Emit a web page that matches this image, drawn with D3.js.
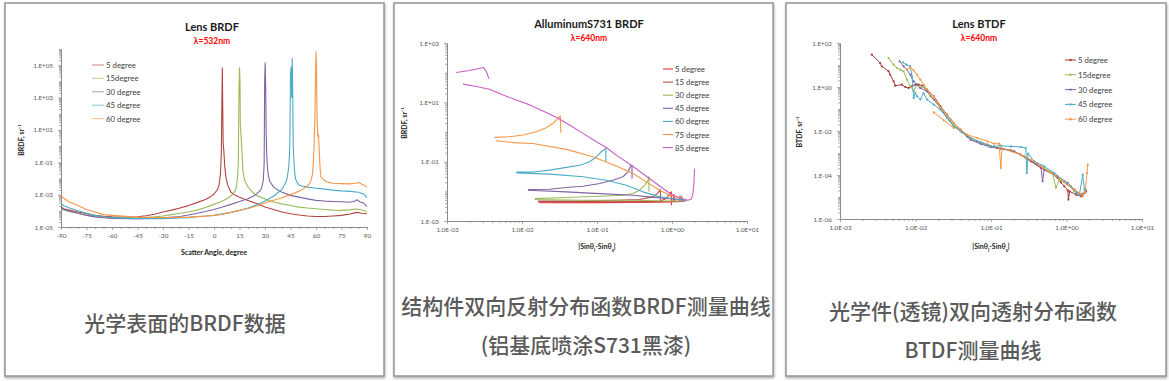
<!DOCTYPE html>
<html><head><meta charset="utf-8">
<script src="https://cdn.jsdelivr.net/npm/d3@7"></script>
<style>body{margin:0;background:#fff;}svg{display:block}</style>
</head><body>
<script>
// ---------------- DATA ----------------
// Panel 1: Lens BRDF, x = scatter angle (deg), y = BRDF (sr^-1)
const p1Names = ["5 degree","15degree","30 degree","45 degree","60 degree"];
const p1Colors = ["#b0443f","#9bbb59","#8064a2","#4bacc6","#f79646"];
const p1XTicks = [-90,-75,-60,-45,-30,-15,0,15,30,45,60,75,90];
const p1YTicks = [1e-5,1e-3,1e-1,1e1,1e3,1e5];
const p1YLabels = ["1.E-05","1.E-03","1.E-01","1.E+01","1.E+03","1.E+05"];
const p1S5 = [[-90,1.7e-4],[-88,1.3e-4],[-85,1.1e-4],[-80,8.5e-5],[-75,6.6e-5],[-70,5.2e-5],[-65,4.6e-5],[-60,4.2e-5],[-50,4.1e-5],[-45,4.3e-5],[-40,5e-5],[-35,6.2e-5],[-30,8.4e-5],[-25,1.1e-4],[-20,1.5e-4],[-15,2.1e-4],[-10,3.2e-4],[-5,5e-4],[-2,7.5e-4],[0,1.1e-3],[2,2e-3],[3,4e-3],[3.8,2e-2],[4.3,0.3],[4.6,2e2],[4.9,7e4],[5.1,5e2],[5.4,1.5],[5.8,0.5],[6.3,6e-2],[7,1.2e-2],[8,4e-3],[10,1.4e-3],[12,1e-3],[15,7e-4],[20,4.4e-4],[25,2.8e-4],[30,1.7e-4],[35,1.2e-4],[40,8.5e-5],[45,6.6e-5],[50,5.5e-5],[55,4.8e-5],[60,4.5e-5],[65,4.5e-5],[70,4.8e-5],[75,5.2e-5],[80,6.3e-5],[84,8e-5],[87,7e-5],[90,6.6e-5]];
const p1S15 = [[-90,1.3e-4],[-88,1.1e-4],[-85,9e-5],[-80,7e-5],[-75,5.5e-5],[-70,4.6e-5],[-65,4e-5],[-60,3.7e-5],[-50,3.6e-5],[-45,3.6e-5],[-40,3.8e-5],[-35,4.2e-5],[-30,4.8e-5],[-25,5.8e-5],[-20,7e-5],[-15,8.5e-5],[-10,1.1e-4],[-5,1.6e-4],[0,2.5e-4],[5,4e-4],[8,6e-4],[10,8.5e-4],[12,1.4e-3],[13,2.5e-3],[13.8,1e-2],[14.3,0.1],[14.7,3e3],[15,7e4],[15.3,1e4],[15.5,20],[16,3],[16.5,0.3],[17,3e-2],[18,8e-3],[20,3e-3],[23,1.3e-3],[25,9e-4],[31,4.8e-4],[35,3.5e-4],[40,2.7e-4],[45,2.15e-4],[50,1.7e-4],[55,1.5e-4],[60,1.34e-4],[65,1.2e-4],[70,1.1e-4],[75,1.06e-4],[80,1.15e-4],[83,1.3e-4],[86,1.2e-4],[90,8.8e-5]];
const p1S30 = [[-90,1.4e-4],[-88,1.2e-4],[-85,9.5e-5],[-80,7e-5],[-75,5.2e-5],[-70,4.2e-5],[-65,3.7e-5],[-60,3.4e-5],[-50,3.3e-5],[-45,3.3e-5],[-40,3.4e-5],[-35,3.5e-5],[-30,3.7e-5],[-20,4.5e-5],[-15,5.5e-5],[-10,7e-5],[-5,9e-5],[0,1.2e-4],[5,1.7e-4],[10,2.5e-4],[15,3.8e-4],[20,5.5e-4],[23,8e-4],[25,1.1e-3],[27,1.7e-3],[28,2.5e-3],[29,8e-3],[29.5,8e-2],[29.8,1e4],[30.1,1.4e5],[30.4,5e3],[30.7,5],[31,0.3],[31.5,4e-2],[32,1.5e-2],[33,6e-3],[35,3e-3],[38,1.8e-3],[40,1.4e-3],[45,9e-4],[50,7e-4],[55,5.5e-4],[60,4.4e-4],[65,4e-4],[70,3.8e-4],[75,3.6e-4],[80,3.4e-4],[83,4e-4],[84,4.8e-4],[86,3.5e-4],[88,3e-4],[90,1.8e-4]];
const p1S45 = [[-90,2.7e-4],[-88,2e-4],[-85,1.5e-4],[-80,1e-4],[-75,7e-5],[-70,5.2e-5],[-65,4.3e-5],[-60,3.8e-5],[-50,3.4e-5],[-45,3.3e-5],[-40,3.3e-5],[-30,3.3e-5],[-20,3.6e-5],[-15,3.8e-5],[-10,4.3e-5],[-5,4.8e-5],[0,5.2e-5],[5,6.5e-5],[10,8e-5],[15,1.06e-4],[20,1.5e-4],[25,2.3e-4],[30,4e-4],[35,8e-4],[38,1.4e-3],[40,2.2e-3],[42,5e-3],[43,1e-2],[44,5e-2],[44.6,1],[45,3e4],[45.4,8e4],[45.7,1e3],[46,2.6e5],[46.3,3e3],[46.6,1],[47,0.15],[47.5,2e-2],[48,9e-3],[49,5.5e-3],[50,4e-3],[52,3.3e-3],[55,2.9e-3],[60,2.5e-3],[65,2.2e-3],[70,1.9e-3],[75,1.7e-3],[80,1.6e-3],[85,1.4e-3],[88,1.1e-3],[90,6.5e-4]];
const p1S60 = [[-90,9e-4],[-88,5.5e-4],[-85,3.5e-4],[-80,2.1e-4],[-75,1.2e-4],[-70,8.4e-5],[-65,5.8e-5],[-60,5.2e-5],[-50,4.5e-5],[-45,4.1e-5],[-30,3.7e-5],[-15,4.1e-5],[-5,4.7e-5],[0,5.2e-5],[5,6.2e-5],[10,8e-5],[15,1.06e-4],[20,1.4e-4],[25,2e-4],[30,3e-4],[35,4.5e-4],[40,6.5e-4],[45,1e-3],[50,1.6e-3],[54,2.9e-3],[56,4.5e-3],[57,7e-3],[58,2e-2],[58.7,0.3],[59.3,30],[59.7,1e4],[60,7e5],[60.3,1e5],[60.6,50],[61,4],[61.5,5],[62,0.3],[62.5,3e-2],[63,1.2e-2],[65,7.4e-3],[68,5.5e-3],[70,5.1e-3],[75,4.8e-3],[80,4.6e-3],[83,5e-3],[85,5.6e-3],[87,4.4e-3],[88,4e-3],[90,2.9e-3]];

// Panel 2: AlluminumS731 BRDF, x = |sin θi - sin θs|, y = BRDF
const p2Names = ["5 degree","15 degree","30 degree","45 degree","60 degree","75 degree","85 degree"];
const p2Colors = ["#ff2a2a","#b5504c","#9bbb59","#8064a2","#4bacc6","#f79646","#c660c4"];
const p2XTicks = [1e-3,1e-2,1e-1,1,10];
const p2XLabels = ["1.0E-03","1.0E-02","1.0E-01","1.0E+00","1.0E+01"];
const p2YTicks = [1e-3,1e-1,1e1,1e3];
const p2YLabels = ["1.E-03","1.E-01","1.E+01","1.E+03"];
const p2S5 = [[1.72e-2,4.4e-3],[0.109,4.3e-3],[0.37,4.4e-3],[0.685,4.6e-3],[0.84,5.7e-3],[0.931,8.4e-3],[0.98,9.6e-3],[0.98,3.4e-3],null,[1.72e-2,4.1e-3],[0.109,4.1e-3],[0.5,4.3e-3],[1.03,4.5e-3],[1.06,8e-3],[1.09,4.5e-3],[1.26,4.6e-3],[1.28,7e-3],[1.31,4.6e-3],[1.4,4.7e-3]];
const p2S15 = [[1.63e-2,4.7e-3],[6.5e-2,4.7e-3],[0.181,5.0e-3],[0.37,5.3e-3],[0.558,6.5e-3],[0.65,8.9e-3],[0.699,1.15e-2],[0.699,5.0e-3],null,[1.63e-2,4.4e-3],[0.109,4.4e-3],[0.5,4.4e-3],[1.03,4.5e-3],[1.55,4.7e-3]];
const p2S30 = [[1.48e-2,5.7e-3],[3.9e-2,6.2e-3],[0.109,6.8e-3],[0.222,7.4e-3],[0.302,8.4e-3],[0.37,1.09e-2],[0.432,1.61e-2],[0.479,2.37e-2],[0.493,3.1e-2],[0.493,9.6e-3],null,[1.48e-2,5.3e-3],[6.5e-2,5.0e-3],[0.302,5.0e-3],[0.84,4.7e-3],[1.3,4.7e-3],[1.35,7e-3],[1.4,4.7e-3]];
const p2S45 = [[1.2e-2,1.15e-2],[2.34e-2,1.18e-2],[3.9e-2,1.34e-2],[6.5e-2,1.49e-2],[0.109,1.83e-2],[0.163,2.37e-2],[0.222,3.1e-2],[0.259,4.5e-2],[0.281,7.1e-2],[0.293,7.6e-2],[0.293,2.7e-2],null,[1.2e-2,1.09e-2],[3.9e-2,9.6e-3],[0.109,8.4e-3],[0.302,7.4e-3],[0.5,6.5e-3],[0.84,5.7e-3],[1.26,5.3e-3],[1.55,5.0e-3]];
const p2S60 = [[8.4e-3,4.5e-2],[1.4e-2,4.5e-2],[2.34e-2,5.2e-2],[3.9e-2,6.4e-2],[5.9e-2,7.6e-2],[8.0e-2,9.9e-2],[9.8e-2,0.146],[0.114,0.216],[0.131,0.28],[0.131,9.9e-2],null,[8.4e-3,4.2e-2],[2.34e-2,3.8e-2],[6.5e-2,3.1e-2],[0.133,2.37e-2],[0.246,1.61e-2],[0.41,9.6e-3],[0.685,6.5e-3],[1.03,5.7e-3],[1.55,5.0e-3]];
const p2S75 = [[4.3e-3,0.66],[6.9e-3,0.69],[1.03e-2,0.79],[1.55e-2,1.02],[2.1e-2,1.4],[2.6e-2,1.96],[3.0e-2,2.82],[3.24e-2,3.47],[3.3e-2,0.95],null,[4.5e-3,0.51],[8.4e-3,0.43],[1.4e-2,0.41],[3.9e-2,0.26],[8.8e-2,0.146],[0.181,7.1e-2],[0.302,4.0e-2],[0.455,2.08e-2],[0.685,1.09e-2],[0.931,7.4e-3],[1.4,5.7e-3]];
const p2S85 = [[1.33e-3,101],[2.0e-3,118],[3.08e-3,150],[3.34e-3,109],[3.63e-3,62],null,[1.63e-3,41],[2.46e-3,34],[3.7e-3,27.7],[5.6e-3,17.8],[8.4e-3,12],[1.27e-2,8.2],[1.9e-2,5.1],[2.87e-2,3.13],[4.3e-2,1.72],[6.5e-2,0.9],[9.8e-2,0.47],[0.133,0.30],[0.181,0.166],[0.287,7.6e-2],[0.5,2.7e-2],[0.759,1.24e-2],[1.03,7.4e-3],[1.33,5.7e-3],[1.63,5.0e-3],[1.81,5.5e-3],[1.9,8.4e-3],[1.96,1.83e-2],[2.0,5.9e-2]];

// Panel 3: Lens BTDF
const p3Names = ["5 degree","15degree","30 degree","45 degree","60 degree"];
const p3Colors = ["#a8383b","#9bbb59","#8064a2","#4bacc6","#f79646"];
const p3XTicks = [1e-3,1e-2,1e-1,1,10];
const p3XLabels = ["1.0E-03","1.0E-02","1.0E-01","1.0E+00","1.0E+01"];
const p3YTicks = [1e-6,1e-4,1e-2,1,1e2];
const p3YLabels = ["1.E-06","1.E-04","1.E-02","1.E+00","1.E+02"];
const p3S5 = [[2.64e-3,29.5],[3.4e-3,12.3],[3.58e-3,8.7],[4.4e-3,5.2],[4.63e-3,3.6],[5.13e-3,1.81],[5.39e-3,1.15],[6.61e-3,1.28],[7.33e-3,1.0],[8.1e-3,0.9],[8.98e-3,1.07],[9.95e-3,1.28],[1.1e-2,1.28],[1.22e-2,1.15],[1.42e-2,0.70],[1.75e-2,0.38],[2.14e-2,0.132],[2.62e-2,0.055],[3.22e-2,0.0231],[3.95e-2,0.0115],[4.84e-2,0.0057],[6.58e-2,0.0034],[8.94e-2,0.0024],[0.121,0.00169],[0.183,0.00132],[0.248,8.4e-4],[0.337,4.2e-4],[0.458,2.08e-4],[0.622,1.23e-4],[0.763,7.3e-5],[0.845,4.6e-5],[0.936,3.05e-5],[1.04,2.0e-5],[1.06,7.6e-6],[1.1,1.8e-5],[1.34,1.28e-5],[1.56,1.07e-5],[1.76,1.52e-5]];
const p3S15 = [[4.4e-3,20.8],[5.13e-3,10.3],[5.67e-3,7.3],[6.28e-3,6.1],[6.96e-3,5.2],[7.7e-3,2.15],[8.53e-3,1.07],[9.46e-3,0.64],[1.05e-2,1.28],[1.16e-2,0.9],[1.28e-2,1.07],[1.42e-2,0.64],[1.57e-2,0.38],[1.93e-2,0.19],[2.37e-2,0.078],[2.9e-2,0.0275],[3.56e-2,0.0137],[4.37e-2,0.0081],[5.94e-2,0.0040],[8.07e-2,0.00265],[0.11,0.00181],[0.149,0.00152],[0.202,0.00119],[0.275,7.1e-4],[0.373,3.8e-4],[0.507,2.08e-4],[0.655,1.23e-4],[0.725,2.6e-5],[0.803,6.1e-5],[1.04,3.6e-5],[1.27,1.8e-5],[1.56,1.28e-5],[1.82,2.15e-5]];
const p3S30 = [[6.15e-3,14.7],[6.96e-3,8.7],[7.7e-3,6.1],[8.53e-3,3.6],[9.46e-3,1.81],[1.05e-2,1.28],[1.16e-2,0.9],[1.42e-2,0.64],[1.75e-2,0.27],[2.14e-2,0.111],[2.62e-2,0.039],[3.22e-2,0.0163],[4.16e-2,0.0087],[5.36e-2,0.0040],[7.29e-2,0.00256],[9.9e-2,0.00187],[0.135,0.00157],[0.202,0.00119],[0.304,5.3e-4],[0.413,2.95e-4],[0.458,2.5e-4],[0.482,5.2e-5],[0.507,1.75e-4],[0.763,8.7e-5],[1.04,4.3e-5],[1.27,2.15e-5],[1.56,1.28e-5],[1.82,1.8e-5]];
const p3S45 = [[6.82e-3,13.2],[7.55e-3,10.3],[8.53e-3,8.7],[8.98e-3,3.05],[9.46e-3,0.32],[9.95e-3,0.53],[1.05e-2,0.38],[1.16e-2,0.27],[1.28e-2,0.53],[1.42e-2,0.27],[1.75e-2,0.157],[2.14e-2,0.093],[2.62e-2,0.039],[3.22e-2,0.0163],[3.95e-2,0.0097],[5.36e-2,0.0048],[7.29e-2,0.0031],[9.4e-2,0.0020],[0.11,0.0020],[0.135,0.00215],[0.183,0.0020],[0.248,0.00187],[0.289,0.00169],[0.298,1.23e-4],[0.31,9.3e-4],[0.373,4.2e-4],[0.507,2.5e-4],[0.689,1.23e-4],[0.936,5.2e-5],[1.15,3.05e-5],[1.34,1.52e-5],[1.48,1.28e-5],[1.64,1.03e-4],[1.73,2.15e-5]];
const p3S60 = [[7.7e-3,6.1],[8.53e-3,7.3],[9.46e-3,5.7],[1.05e-2,3.6],[1.16e-2,2.15],[1.28e-2,1.28],[1.42e-2,0.81],[1.57e-2,0.53],[1.75e-2,0.38],[1.93e-2,0.19],[2.14e-2,0.111],[2.62e-2,0.055],[3.22e-2,0.0231],[3.95e-2,0.0115],[4.84e-2,0.0068],[6.58e-2,0.0048],[8.94e-2,0.0034],[0.11,0.00265],[0.128,0.00265],[0.135,2.08e-4],[0.14,0.00169],[0.183,0.00119],[0.248,8.4e-4],[0.337,5.0e-4],[0.458,2.5e-4],[0.622,1.23e-4],[0.845,6.1e-5],[1.04,3.6e-5],[1.27,2.15e-5],[1.48,1.52e-5],[1.64,1.07e-5],[1.76,1.52e-5],[1.87,1.23e-4],[1.91,2.95e-4],null,[1.75e-2,0.070],[2.37e-2,0.0305],[3.22e-2,0.0137]];

// Captions
const captions = [
  ["光学表面的BRDF数据"],
  ["结构件双向反射分布函数BRDF测量曲线","(铝基底喷涂S731黑漆)"],
  ["光学件(透镜)双向透射分布函数","BTDF测量曲线"]
];

// ---------------- DRAWING ----------------
const F = "Lato, 'Open Sans', sans-serif";
const AX = "#868686", TX = "#595959";
const svg = d3.select("body").append("svg").attr("width",1169).attr("height",381);
const defs = svg.append("defs");
defs.append("filter").attr("id","sh").attr("x","-3%").attr("y","-3%").attr("width","106%").attr("height","108%")
  .append("feDropShadow").attr("dx",0.5).attr("dy",1.5).attr("stdDeviation",0.8).attr("flood-color","#666").attr("flood-opacity",0.55);

const boxes = [{x:5,y:3,w:379,h:373,cx:185,cy:[322]},{x:394,y:3,w:379,h:373,cx:586,cy:[305,344]},{x:786,y:3,w:380,h:373,cx:973,cy:[310,349]}];
boxes.forEach((b,i)=>{
  svg.append("rect").attr("x",b.x).attr("y",b.y).attr("width",b.w).attr("height",b.h)
    .attr("fill","#fff").attr("stroke","#9c9c9c").attr("stroke-width",1.6).attr("filter","url(#sh)");
  captions[i].forEach((t,j)=>{
    svg.append("text").attr("x",b.cx).attr("y",b.cy[j]).attr("text-anchor","middle").attr("dominant-baseline","central")
      .style("font-family","'Noto Sans CJK SC', sans-serif").style("font-size","21px").style("font-weight",500)
      .attr("fill","#5a5a5a").text(t);
  });
});

function logMinor(domain, majors){
  const out=[]; const lo=Math.floor(Math.log10(domain[0])), hi=Math.ceil(Math.log10(domain[1]));
  for(let e=lo;e<=hi;e++) for(let k=1;k<=9;k++){ const v=k*Math.pow(10,e);
    if(v>=domain[0]*0.999 && v<=domain[1]*1.001 && !majors.some(m=>Math.abs(m-v)/m<1e-6)) out.push(v); }
  return out;
}
function styleAxis(g){
  g.select(".domain").attr("stroke",AX).attr("stroke-width",0.8);
  g.selectAll(".tick line").attr("stroke",AX).attr("stroke-width",0.7);
  g.selectAll(".tick text").attr("fill",TX).style("font-size","6.3px").style("font-family",F);
}

function drawPanel(c){
  const g = svg.append("g");
  const x = c.xLog ? d3.scaleLog().domain(c.xDom).range(c.xRange) : d3.scaleLinear().domain(c.xDom).range(c.xRange);
  const y = d3.scaleLog().domain(c.yDom).range(c.yRange);
  // minor ticks
  const xMinor = c.xLog ? logMinor(c.xDom, c.xTicks) : c.xMinor;
  g.append("g").attr("transform",`translate(0,${c.yRange[0]})`).call(d3.axisBottom(x).tickValues(xMinor).tickFormat("").tickSize(2).tickSizeOuter(0)).call(styleAxis);
  g.append("g").attr("transform",`translate(${c.xRange[0]},0)`).call(d3.axisLeft(y).tickValues(logMinor(c.yDom,c.yTicks)).tickFormat("").tickSize(2).tickSizeOuter(0)).call(styleAxis);
  // major
  g.append("g").attr("transform",`translate(0,${c.yRange[0]})`)
    .call(d3.axisBottom(x).tickValues(c.xTicks).tickFormat((d,i)=>c.xLabels[i]).tickSize(3).tickSizeOuter(0).tickPadding(4)).call(styleAxis);
  g.append("g").attr("transform",`translate(${c.xRange[0]},0)`)
    .call(d3.axisLeft(y).tickValues(c.yTicks).tickFormat((d,i)=>c.yLabels[i]).tickSize(3).tickSizeOuter(0).tickPadding(5)).call(styleAxis);
  // titles
  const tcx = c.titleX;
  g.append("text").attr("x",tcx).attr("y",c.titleY).attr("text-anchor","middle").style("font-family",F)
    .style("font-size","11px").style("font-weight","bold").attr("fill","#1a1a1a").text(c.title);
  g.append("text").attr("x",tcx).attr("y",c.titleY+13).attr("text-anchor","middle").style("font-family",F)
    .style("font-size","8.5px").style("font-weight","bold").attr("fill","#ff0000").text(c.sub);
  // axis labels
  const xl = g.append("text").attr("x",c.xLabelPos[0]).attr("y",c.xLabelPos[1]).attr("text-anchor","middle")
    .style("font-family",F).style("font-size","7px").style("font-weight","bold").attr("fill","#222");
  c.xLabelParts.forEach(p=>{ const t=xl.append("tspan").text(p[0]); if(p[1]) t.attr("baseline-shift","sub").style("font-size","5px"); });
  g.append("text").attr("transform",`translate(${c.yLabelPos[0]},${c.yLabelPos[1]}) rotate(-90)`).attr("text-anchor","middle")
    .style("font-family",F).style("font-size","7px").style("font-weight","bold").attr("fill","#222").text(c.yLabel);
  // clip
  const cid = "clip"+c.id;
  defs.append("clipPath").attr("id",cid).append("rect").attr("x",c.xRange[0]).attr("y",c.yRange[1]-2)
    .attr("width",c.xRange[1]-c.xRange[0]).attr("height",c.yRange[0]-c.yRange[1]+2);
  const line = d3.line().defined(d=>d!=null).x(d=>x(d[0])).y(d=>y(d[1]));
  const pg = g.append("g").attr("clip-path",`url(#${cid})`);
  c.series.forEach((s,i)=>{
    pg.append("path").attr("d",line(s)).attr("fill","none").attr("stroke",c.colors[i]).attr("stroke-width",c.lw).attr("stroke-linejoin","round");
    if(c.markers){
      pg.selectAll(null).data(s.filter(d=>d!=null)).enter().append("circle")
        .attr("cx",d=>x(d[0])).attr("cy",d=>y(d[1])).attr("r",1.1).attr("fill",c.colors[i]);
    }
  });
  // legend
  c.names.forEach((n,i)=>{
    const ly = c.leg[1] + i*c.leg[2];
    g.append("line").attr("x1",c.leg[0]).attr("x2",c.leg[0]+c.leg[3]).attr("y1",ly).attr("y2",ly)
      .attr("stroke",c.colors[i]).attr("stroke-width",c.lw).attr("stroke-opacity",c.legOpacity);
    if(c.markers) g.append("circle").attr("cx",c.leg[0]+c.leg[3]/2).attr("cy",ly).attr("r",1.2).attr("fill",c.colors[i]);
    g.append("text").attr("x",c.leg[0]+c.leg[3]+2).attr("y",ly).attr("dominant-baseline","central")
      .style("font-family",F).style("font-size","7.8px").attr("fill","#404040").text(n);
  });
}

drawPanel({id:1, xLog:false, xDom:[-90,90], xRange:[61,367], yDom:[1e-5,1e6], yRange:[227,49],
  xTicks:p1XTicks, xLabels:p1XTicks.map(String), xMinor:d3.range(-85,90,5).filter(v=>v%15!==0),
  yTicks:p1YTicks, yLabels:p1YLabels, title:"Lens BRDF", sub:"λ=532nm", titleX:212, titleY:31,
  xLabelParts:[["Scatter Angle, degree"]], xLabelPos:[214,255], yLabel:"BRDF, sr⁻¹", yLabelPos:[24,140],
  series:[p1S5,p1S15,p1S30,p1S45,p1S60], colors:p1Colors, names:p1Names, lw:1.1, markers:false,
  leg:[92,65,13.4,12], legOpacity:0.6});

drawPanel({id:2, xLog:true, xDom:[1e-3,10], xRange:[447,747], yDom:[1e-3,1e3], yRange:[221,43],
  xTicks:p2XTicks, xLabels:p2XLabels, yTicks:p2YTicks, yLabels:p2YLabels,
  title:"AlluminumS731 BRDF", sub:"λ=640nm", titleX:589, titleY:28,
  xLabelParts:[["|Sinθ"],["i",1],["-Sinθ"],["s",1],["|"]], xLabelPos:[597,249], yLabel:"BRDF, sr⁻¹", yLabelPos:[407,123],
  series:[p2S5,p2S15,p2S30,p2S45,p2S60,p2S75,p2S85], colors:p2Colors, names:p2Names, lw:1.1, markers:false,
  leg:[663,69,13.1,10], legOpacity:1});

drawPanel({id:3, xLog:true, xDom:[1e-3,10], xRange:[840,1142], yDom:[1e-6,1e2], yRange:[219,43],
  xTicks:p3XTicks, xLabels:p3XLabels, yTicks:p3YTicks, yLabels:p3YLabels,
  title:"Lens BTDF", sub:"λ=640nm", titleX:979, titleY:28,
  xLabelParts:[["|Sinθ"],["i",1],["-Sinθ"],["s",1],["|"]], xLabelPos:[991,249], yLabel:"BTDF, sr⁻¹", yLabelPos:[802,132],
  series:[p3S5,p3S15,p3S30,p3S45,p3S60], colors:p3Colors, names:p3Names, lw:1, markers:true,
  leg:[1065,60,14.8,11], legOpacity:1});
</script>
</body></html>
